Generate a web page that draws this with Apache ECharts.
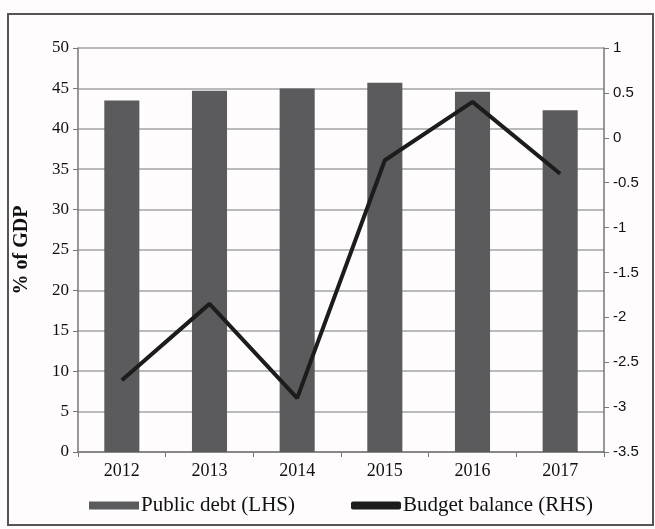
<!DOCTYPE html>
<html>
<head>
<meta charset="utf-8">
<script src="https://cdn.jsdelivr.net/npm/echarts@6/dist/echarts.min.js"></script>
<style>
  html, body { margin: 0; padding: 0; background: #ffffff; }
  #chart { width: 655px; height: 529px; }
</style>
</head>
<body>
<div id="chart"></div>
<script>
// Years on the category axis
const years = ['2012', '2013', '2014', '2015', '2016', '2017'];
// Public debt, % of GDP (left axis)
const publicDebt = [43.5, 44.7, 45.0, 45.7, 44.6, 42.3];
// Budget balance, % of GDP (right axis)
const budgetBalance = [-2.7, -1.85, -2.9, -0.25, 0.4, -0.4];
// Axis ranges
const leftAxis = { min: 0, max: 50, step: 5 };
const rightAxis = { min: -3.5, max: 1, step: 0.5 };

const serif = '"Liberation Serif", "DejaVu Serif", serif';
const chart = echarts.init(document.getElementById('chart'), null, { renderer: 'canvas' });

chart.setOption({
  backgroundColor: '#fefcfd',
  animation: false,
  graphic: [{
    type: 'rect',
    shape: { x: 8, y: 14, width: 645, height: 511 },
    style: { fill: 'none', stroke: '#555', lineWidth: 2 },
    silent: true
  }],
  grid: { left: 78, right: 51, top: 48, bottom: 77 },
  legend: {
    bottom: 8,
    left: 84,
    itemGap: 56,
    itemWidth: 50,
    itemHeight: 8,
    textStyle: { fontFamily: serif, fontSize: 21, color: '#111', padding: [0, 0, 0, -3] },
    data: [
      { name: 'Public debt (LHS)', icon: 'rect' },
      { name: 'Budget balance (RHS)', icon: 'roundRect' }
    ]
  },
  xAxis: {
    type: 'category',
    data: years,
    axisLine: { lineStyle: { color: '#777', width: 1.5 } },
    axisTick: { show: true, alignWithLabel: false, length: 5, lineStyle: { color: '#777' } },
    axisLabel: { fontFamily: serif, fontSize: 18, color: '#111', margin: 10 }
  },
  yAxis: [{
    type: 'value',
    min: leftAxis.min, max: leftAxis.max, interval: leftAxis.step,
    name: '% of GDP',
    nameLocation: 'middle',
    nameGap: 46,
    nameTextStyle: { fontFamily: serif, fontSize: 20, fontWeight: 'bold', color: '#111' },
    axisLine: { show: true, lineStyle: { color: '#777', width: 1.5 } },
    axisTick: { show: true, length: 5, lineStyle: { color: '#777' } },
    axisLabel: { fontFamily: serif, fontSize: 17, color: '#111', margin: 9 },
    splitLine: { show: true, lineStyle: { color: '#a3a3a6', width: 1.5 } }
  }, {
    type: 'value',
    position: 'right',
    min: rightAxis.min, max: rightAxis.max, interval: rightAxis.step,
    axisLine: { show: true, lineStyle: { color: '#777', width: 1.5 } },
    axisTick: { show: true, length: 5, lineStyle: { color: '#777' } },
    axisLabel: { fontFamily: '"Liberation Sans", Arial, sans-serif', fontSize: 15, color: '#111', margin: 9 },
    splitLine: { show: false }
  }],
  series: [{
    name: 'Public debt (LHS)',
    type: 'bar',
    data: publicDebt,
    yAxisIndex: 0,
    barWidth: '40%',
    itemStyle: { color: '#5b5b5e' }
  }, {
    name: 'Budget balance (RHS)',
    type: 'line',
    data: budgetBalance,
    yAxisIndex: 1,
    symbol: 'none',
    lineStyle: { color: '#1c1c1c', width: 4 },
    itemStyle: { color: '#1c1c1c' }
  }]
});
</script>
</body>
</html>
